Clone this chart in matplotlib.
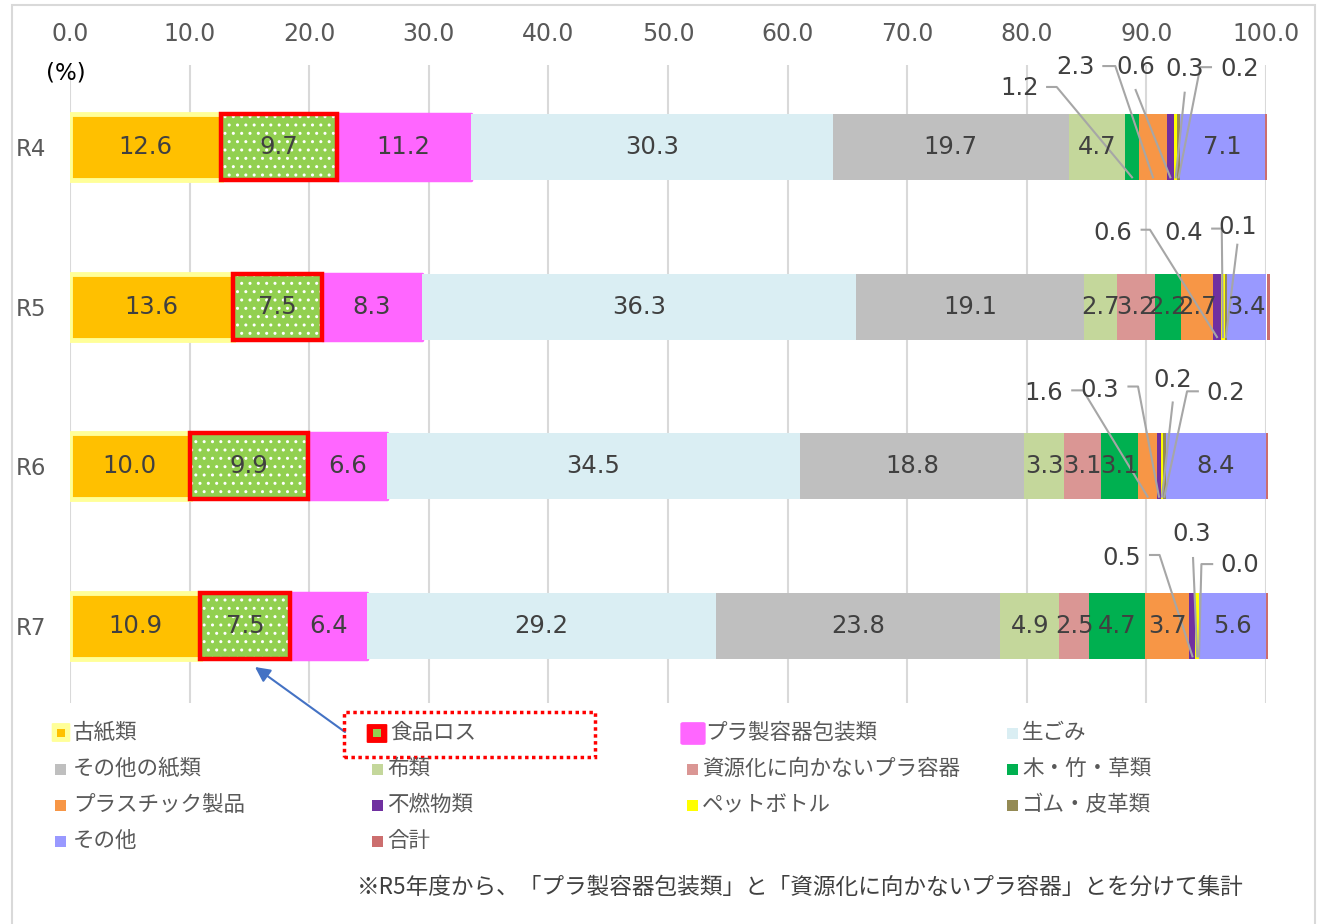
import numpy as np
import matplotlib.pyplot as plt
from matplotlib.patches import Rectangle, FancyBboxPatch

plt.rcParams['font.family'] = ['DejaVu Sans', 'Noto Sans CJK JP']
JP = ['Noto Sans CJK JP', 'DejaVu Sans']

years = ['R4', 'R5', 'R6', 'R7']
categories = ['古紙類', '食品ロス', 'プラ製容器包装類', '生ごみ', 'その他の紙類', '布類',
              '資源化に向かないプラ容器', '木・竹・草類', 'プラスチック製品', '不燃物類',
              'ペットボトル', 'ゴム・皮革類', 'その他', '合計']
colors = ['#FFC000', '#92D050', '#FF66FF', '#DAEEF3', '#BFBFBF', '#C4D79B',
          '#DA9694', '#00B050', '#F79646', '#7030A0', '#FFFF00', '#948A54',
          '#9999FF', '#CC6E6E']

r4 = [12.6, 9.7, 11.2, 30.3, 19.7, 4.7, 0.0, 1.2, 2.3, 0.6, 0.3, 0.2, 7.1, 0.2]
r5 = [13.6, 7.5, 8.3, 36.3, 19.1, 2.7, 3.2, 2.2, 2.7, 0.6, 0.4, 0.1, 3.4, 0.2]
r6 = [10.0, 9.9, 6.6, 34.5, 18.8, 3.3, 3.1, 3.1, 1.6, 0.3, 0.2, 0.2, 8.4, 0.2]
r7 = [10.9, 7.5, 6.4, 29.2, 23.8, 4.9, 2.5, 4.7, 3.7, 0.5, 0.3, 0.0, 5.6, 0.2]
data = np.array([r4, r5, r6, r7])

# small segments labelled outside the bar: (row, category) -> text pos, leader points
callouts = {
    (0, 7): ((79.4, -0.37), [(81.7, -0.376), (82.5, -0.376)]),
    (0, 8): ((84.1, -0.50), [(86.4, -0.507), (87.4, -0.507)]),
    (0, 9): ((89.1, -0.50), [(89.1, -0.357)]),
    (0, 10): ((93.2, -0.49), [(93.2, -0.34)]),
    (0, 11): ((97.8, -0.49), [(95.4, -0.50), (94.5, -0.50)]),
    (1, 9): ((87.2, -0.463), [(89.6, -0.482), (90.3, -0.482)]),
    (1, 10): ((93.1, -0.463), [(95.5, -0.489), (96.3, -0.489)]),
    (1, 11): ((97.6, -0.50), [(97.6, -0.388)]),
    (2, 8): ((81.4, -0.457), [(83.8, -0.476), (84.7, -0.476)]),
    (2, 9): ((86.1, -0.476), [(88.5, -0.50), (89.3, -0.50)]),
    (2, 10): ((92.2, -0.54), [(92.2, -0.40)]),
    (2, 11): ((96.6, -0.457), [(94.3, -0.47), (93.4, -0.47)]),
    (3, 9): ((87.9, -0.426), [(90.3, -0.445), (91.1, -0.445)]),
    (3, 10): ((93.8, -0.576), [(93.9, -0.426)]),
    (3, 11): ((97.8, -0.38), [(95.5, -0.388), (94.6, -0.388)]),
}

W, H = 1319, 924
fig = plt.figure(figsize=(W / 100, H / 100), dpi=100)


def fxy(x, y):
    return x / W, 1 - y / H


ax = fig.add_axes([70 / W, 1 - 703 / H, (1266 - 70) / W, (703 - 65) / H])
rows = np.arange(len(years))
h = 0.413
left = np.zeros(len(years))
lefts = []
for j, cat in enumerate(categories):
    vals = data[:, j]
    lefts.append(left.copy())
    if j == 0:
        bars = ax.barh(rows, vals, h, left=left, color=colors[j],
                       edgecolor='#FFFF99', linewidth=3.5, zorder=2)
    elif j == 1:
        bars = ax.barh(rows, vals, h, left=left, color=colors[j], linewidth=0, zorder=2)
        ax.barh(rows, vals, h, left=left, facecolor='none', edgecolor='white',
                hatch='..', linewidth=0, zorder=2.1)
        ax.barh(rows, vals, h, left=left, facecolor='none', edgecolor='#FF0000',
                linewidth=3.2, zorder=3)
    elif j == 2:
        bars = ax.barh(rows, vals, h, left=left, color=colors[j],
                       edgecolor=colors[j], linewidth=2.5, joinstyle='round', zorder=2)
    else:
        bars = ax.barh(rows, vals, h, left=left, color=colors[j], linewidth=0, zorder=2)
        if j == 13:
            # the total sliver sits just past the 100 line
            for b in bars:
                b.set_clip_on(False)
    labels = []
    for i, v in enumerate(vals):
        if j == 13 or v == 0 or (i, j) in callouts:
            labels.append('')
        else:
            labels.append(f'{v:.1f}')
    ax.bar_label(bars, labels=labels, label_type='center', fontsize=17.5,
                 color='#404040', zorder=5)
    left = left + vals

# outside labels with leader lines
for (i, j), ((tx, tdy), pts) in callouts.items():
    v = data[i, j]
    ax.text(tx, i + tdy, f'{v:.1f}', ha='center', va='center', fontsize=17.5,
            color='#404040', zorder=5)
    xs = [p[0] for p in pts] + [lefts[j][i] + v / 2]
    ys = [i + p[1] for p in pts] + [i + 0.19]
    ax.plot(xs, ys, color='#A6A6A6', lw=1.5, zorder=4, clip_on=False)

ax.set_xlim(0, 100)
ax.set_ylim(3.482, -0.5136)
ax.xaxis.tick_top()
ticks = np.arange(0, 101, 10)
ax.set_xticks(ticks, [f'{t:.1f}' for t in ticks])
ax.tick_params(axis='x', length=0, pad=14, labelsize=17, labelcolor='#595959')
ax.set_yticks(rows, years)
ax.tick_params(axis='y', length=0, pad=17, labelsize=16.5, labelcolor='#595959')
ax.grid(axis='x', color='#D9D9D9', lw=1.5)
ax.set_axisbelow(True)
for s in ax.spines.values():
    s.set_visible(False)

fig.text(*fxy(66, 73), '(%)', ha='center', va='center', fontsize=16.5, color='black')

# chart frame
fig.add_artist(Rectangle(fxy(12, 930), (1315 - 12) / W, (930 - 5) / H,
                         transform=fig.transFigure, facecolor='none',
                         edgecolor='#D9D9D9', lw=1.5))

# legend, four columns
col_x = [52, 368, 683, 1003]
row_y = [733, 769, 805, 841]
for k, cat in enumerate(categories):
    cx, cy = col_x[k % 4], row_y[k // 4]
    if k == 0:
        fig.add_artist(FancyBboxPatch(fxy(cx + 1, cy + 8), 16 / W, 17 / H,
                                      boxstyle='round,pad=0.001', transform=fig.transFigure,
                                      facecolor='#FFFF99', edgecolor='none'))
        fig.add_artist(Rectangle(fxy(cx + 5, cy + 4), 8 / W, 8 / H,
                                 transform=fig.transFigure, facecolor=colors[k], edgecolor='none'))
        tx = cx + 21
    elif k == 1:
        fig.add_artist(FancyBboxPatch(fxy(cx, cy + 9), 18 / W, 17 / H,
                                      boxstyle='round,pad=0.001', transform=fig.transFigure,
                                      facecolor='#FF0000', edgecolor='none'))
        fig.add_artist(Rectangle(fxy(cx + 5, cy + 4), 8 / W, 8 / H,
                                 transform=fig.transFigure, facecolor=colors[k], edgecolor='none'))
        tx = cx + 22
    elif k == 2:
        fig.add_artist(FancyBboxPatch(fxy(cx, cy + 10), 20 / W, 19 / H,
                                      boxstyle='round,pad=0.002', transform=fig.transFigure,
                                      facecolor=colors[k], edgecolor='none'))
        tx = cx + 22
    else:
        mx = cx + 3 if k % 4 == 0 else cx + 4
        fig.add_artist(Rectangle(fxy(mx, cy + 6), 11 / W, 11 / H,
                                 transform=fig.transFigure, facecolor=colors[k], edgecolor='none'))
        tx = cx + 21 if k % 4 == 0 else cx + 19
    fig.text(*fxy(tx, cy), cat, ha='left', va='center', fontsize=15.5,
             color='#595959', family=JP)

# dotted box around the food loss entry and arrow to the bar
fig.add_artist(Rectangle(fxy(344, 757), (595 - 344) / W, (757 - 712) / H,
                         transform=fig.transFigure, facecolor='none',
                         edgecolor='#FF0000', lw=2.5, linestyle=(0, (1, 1))))
ax.annotate('', xy=fxy(255, 667), xycoords='figure fraction',
            xytext=fxy(345, 732), textcoords='figure fraction',
            arrowprops=dict(arrowstyle='-|>,head_length=0.9,head_width=0.45',
                            color='#4472C4', lw=1.5, shrinkA=0, shrinkB=0))

fig.text(*fxy(800, 887), '※R5年度から、「プラ製容器包装類」と「資源化に向かないプラ容器」とを分けて集計',
         ha='center', va='center', fontsize=16.3, color='#404040', family=JP)

fig.savefig('out.png', dpi=100)
